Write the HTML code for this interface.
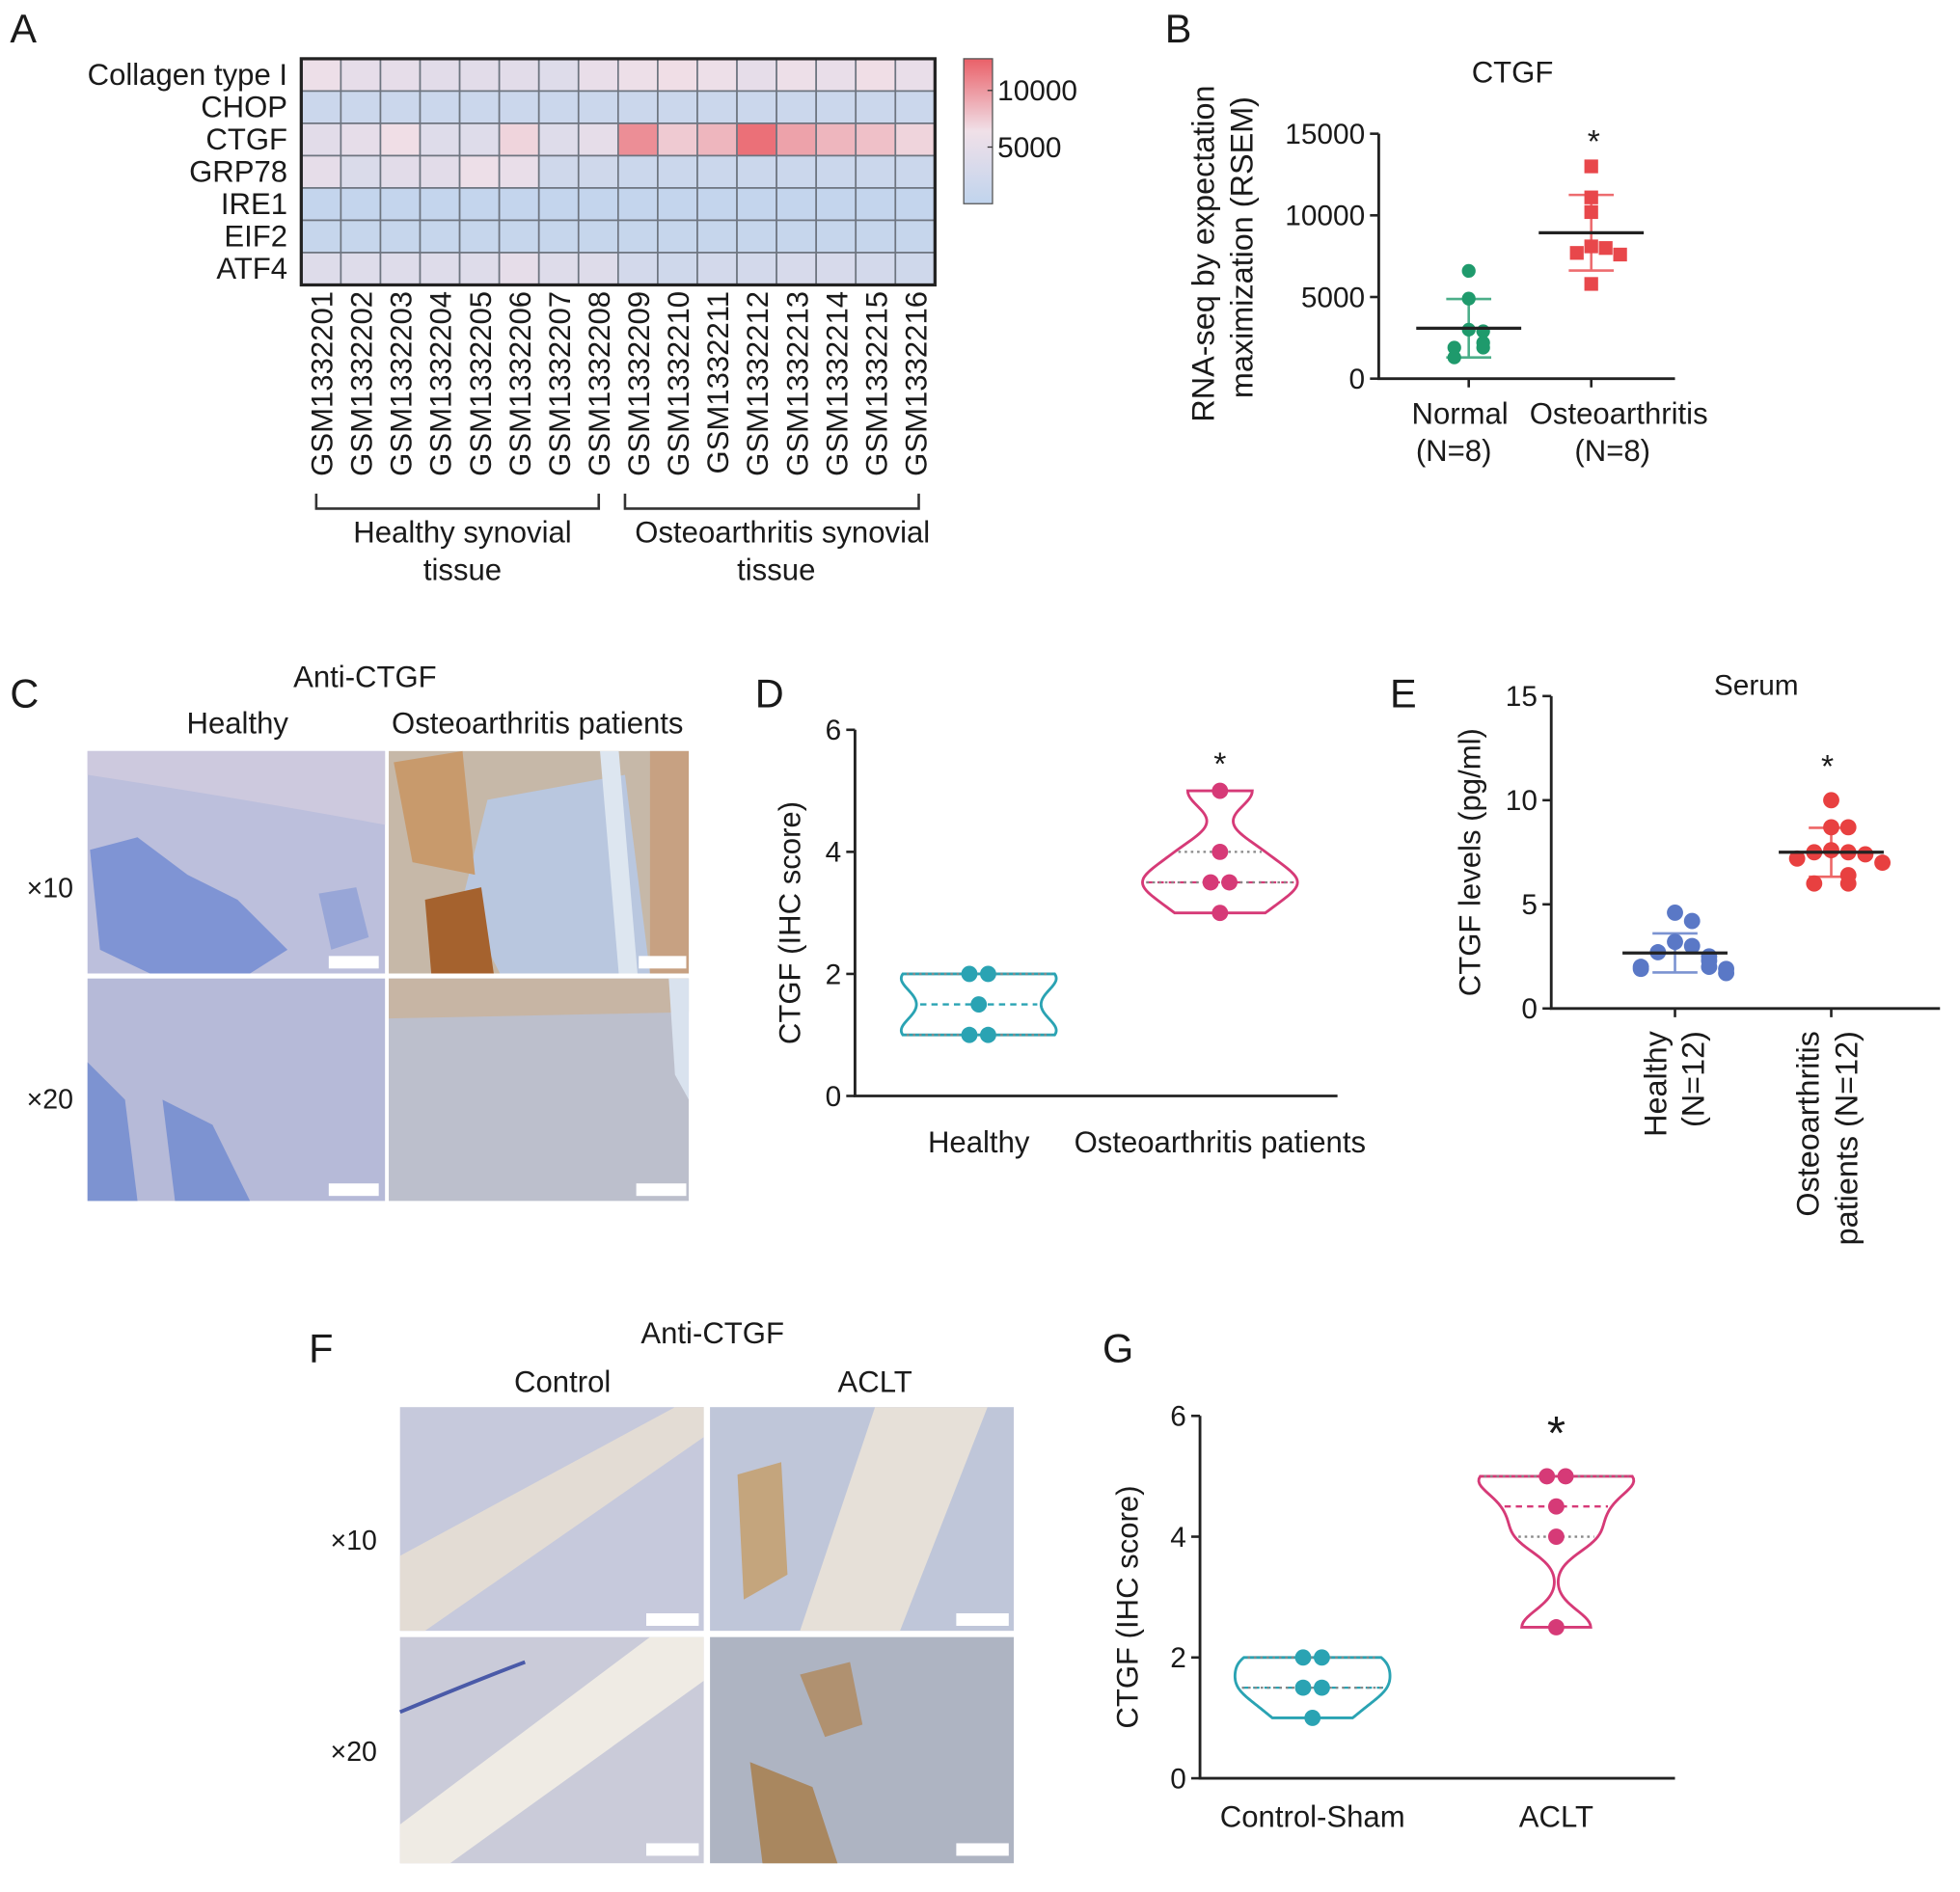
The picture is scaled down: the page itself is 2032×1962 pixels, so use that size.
<!DOCTYPE html>
<html><head><meta charset="utf-8">
<style>
html,body{margin:0;padding:0;background:#fff;}
svg{display:block;font-family:"Liberation Sans",Arial,sans-serif;}
text{fill:#1a1a1a;}
</style></head>
<body>
<svg id="fig" width="2032" height="1962" viewBox="0 0 1568 1514" xmlns="http://www.w3.org/2000/svg">
<rect width="1568" height="1514" fill="#fff"/>
<g font-size="32">
<text x="8" y="34">A</text><text x="932" y="34">B</text><text x="8" y="566">C</text>
<text x="604" y="566">D</text><text x="1112" y="566">E</text><text x="247" y="1090">F</text><text x="882" y="1090">G</text>
</g>
<g id="panelA"></g>
<g id="panelB"></g>
<g>
<text x="292" y="550" font-size="24" text-anchor="middle">Anti-CTGF</text>
<text x="190" y="587" font-size="24" text-anchor="middle">Healthy</text>
<text x="430" y="587" font-size="24" text-anchor="middle">Osteoarthritis patients</text>
<text x="40" y="718" font-size="22" text-anchor="middle">×10</text>
<text x="40" y="887" font-size="22" text-anchor="middle">×20</text>
<g>
<rect x="70" y="601" width="238" height="178" fill="#bcbfdc"/>
<path d="M70 601 L308 601 L308 660 Q200 640 70 620 Z" fill="#cdc9de"/>
<path d="M72 680 L110 670 L150 700 L190 720 L230 760 L200 779 L120 779 L80 760 Z" fill="#6f8ad2" opacity="0.8"/>
<path d="M255 715 L285 710 L295 750 L265 760 Z" fill="#8ea0d6" opacity="0.8"/>
<rect x="263" y="765" width="40" height="10" fill="#fff"/>
</g>
<g>
<rect x="311" y="601" width="240" height="178" fill="#c6b8a8"/>
<path d="M390 640 L500 620 L520 779 L400 779 L370 720 Z" fill="#b9c7df"/>
<path d="M480 601 L495 601 L510 779 L495 779 Z" fill="#dde6f0"/>
<path d="M315 610 L370 601 L380 700 L330 690 Z" fill="#c89a6c"/>
<path d="M340 720 L385 710 L395 779 L345 779 Z" fill="#a5622e"/>
<path d="M520 601 L551 601 L551 779 L520 779 Z" fill="#c7a182"/>
<rect x="511" y="765" width="38" height="10" fill="#fff"/>
</g>
<g>
<rect x="70" y="783" width="238" height="178" fill="#b6bad8"/>
<path d="M70 850 L100 880 L110 961 L70 961 Z" fill="#6f89d0" opacity="0.8"/>
<path d="M130 880 L170 900 L200 961 L140 961 Z" fill="#6f89d0" opacity="0.8"/>
<rect x="263" y="947" width="40" height="10" fill="#fff"/>
</g>
<g>
<rect x="311" y="783" width="240" height="178" fill="#bcbfcc"/>
<path d="M311 783 L551 783 L551 810 L311 815 Z" fill="#c7b5a4"/>
<path d="M535 783 L551 783 L551 880 L540 860 Z" fill="#d9e2ee"/>
<rect x="509" y="947" width="40" height="10" fill="#fff"/>
</g>
</g>
<g>
<text x="570" y="1075" font-size="24" text-anchor="middle">Anti-CTGF</text>
<text x="450" y="1114" font-size="24" text-anchor="middle">Control</text>
<text x="700" y="1114" font-size="24" text-anchor="middle">ACLT</text>
<text x="283" y="1240" font-size="22" text-anchor="middle">×10</text>
<text x="283" y="1409" font-size="22" text-anchor="middle">×20</text>
<g>
<rect x="320" y="1126" width="243" height="179" fill="#c6c9dc"/>
<path d="M320 1245 L540 1126 L563 1126 L563 1150 L340 1305 L320 1305 Z" fill="#e3dcd4"/>
<rect x="517" y="1291" width="42" height="10" fill="#fff"/>
</g>
<g>
<rect x="568" y="1126" width="243" height="179" fill="#bfc6d9"/>
<path d="M700 1126 L790 1126 L720 1305 L640 1305 Z" fill="#e6e0d8"/>
<path d="M590 1180 L625 1170 L630 1260 L595 1280 Z" fill="#c4a57d"/>
<rect x="765" y="1291" width="42" height="10" fill="#fff"/>
</g>
<g>
<rect x="320" y="1310" width="243" height="181" fill="#cacbd9"/>
<path d="M320 1460 L520 1310 L563 1310 L563 1345 L360 1491 L320 1491 Z" fill="#efebe4"/>
<path d="M320 1370 Q380 1345 420 1330" stroke="#4a5aa8" stroke-width="3" fill="none"/>
<rect x="517" y="1475" width="42" height="10" fill="#fff"/>
</g>
<g>
<rect x="568" y="1310" width="243" height="181" fill="#aeb4c2"/>
<path d="M640 1340 L680 1330 L690 1380 L660 1390 Z" fill="#b09170"/>
<path d="M600 1410 L650 1430 L670 1491 L610 1491 Z" fill="#a9875f"/>
<rect x="765" y="1475" width="42" height="10" fill="#fff"/>
</g>
</g>
<g id="panelD"></g>
<g id="panelE"></g>
<g id="panelG"></g>
</svg>
<script>
const heatGenes = ["Collagen type I","CHOP","CTGF","GRP78","IRE1","EIF2","ATF4"];
const heatSamples = ["GSM1332201","GSM1332202","GSM1332203","GSM1332204","GSM1332205","GSM1332206","GSM1332207","GSM1332208","GSM1332209","GSM1332210","GSM1332211","GSM1332212","GSM1332213","GSM1332214","GSM1332215","GSM1332216"];
const heatCollagen = [6000,5000,5000,4500,4500,4500,4000,5500,6000,6500,6000,5000,6000,5500,6500,5500];
const heatCHOP = [1500,1500,1500,1500,1500,1500,1500,1500,1500,1500,1500,1500,1500,1500,1500,1500];
const heatCTGF = [4500,5000,6500,4000,4000,7000,4000,5000,10500,7500,8500,12000,9500,8500,8000,7000];
const heatGRP78 = [5000,3500,4500,4500,6000,5500,2000,2000,1500,1500,1500,1500,1500,1500,1500,1500];
const heatIRE1 = [500,500,500,500,500,500,500,500,500,500,500,500,500,500,500,500];
const heatEIF2 = [800,800,800,800,800,800,800,800,800,800,800,800,800,800,800,800];
const heatATF4 = [4000,4000,4000,4000,4000,5000,4000,4000,2500,2000,2500,2500,3000,3000,2500,2000];
const heatRows = [heatCollagen,heatCHOP,heatCTGF,heatGRP78,heatIRE1,heatEIF2,heatATF4];
const heatTicks = [5000,10000];

const bCats = ["Normal","Osteoarthritis"];
const bNormal = [6600,4900,3000,2900,2200,1900,1900,1300];
const bOA = [13000,11100,10200,8100,8000,7700,7600,5800];
const bTicks = [0,5000,10000,15000];

const dCats = ["Healthy","Osteoarthritis patients"];
const dHealthy = [2,2,1.5,1,1];
const dOA = [5,4,3.5,3.5,3];
const dTicks = [0,2,4,6];

const eCats = ["Healthy","Osteoarthritis patients"];
const eHealthy = [4.6,4.2,3.2,3.0,2.7,2.5,2.3,2.0,2.0,1.9,1.9,1.7];
const eOA = [10,8.7,8.7,7.6,7.5,7.5,7.4,7.2,7.0,6.4,6.0,6.0];
const eTicks = [0,5,10,15];

const gCats = ["Control-Sham","ACLT"];
const gControl = [2,2,1.5,1.5,1];
const gACLT = [5,5,4.5,4,2.5];
const gTicks = [0,2,4,6];

const NS="http://www.w3.org/2000/svg";
function mk(parent,tag,attrs,txt){const e=document.createElementNS(NS,tag);for(const k in attrs)e.setAttribute(k,attrs[k]);if(txt!==undefined)e.textContent=txt;parent.appendChild(e);return e;}
function lin(d0,d1,r0,r1){return v=>r0+(v-d0)/(d1-d0)*(r1-r0);}
function mean(a){return a.reduce((s,v)=>s+v,0)/a.length;}
function sd(a){const m=mean(a);return Math.sqrt(a.reduce((s,v)=>s+(v-m)*(v-m),0)/(a.length-1));}
function quant(a,q){const s=[...a].sort((x,y)=>x-y);const p=(s.length-1)*q;const i=Math.floor(p);return s[i]+(s[Math.min(i+1,s.length-1)]-s[i])*(p-i);}
function mix(c1,c2,t){return "rgb("+c1.map((v,i)=>Math.round(v+(c2[i]-v)*t)).join(",")+")";}
function heatColor(v){const lo=[192,212,237],mid=[240,224,232],hi=[234,96,104];const t=Math.max(0,Math.min(1,v/12800));return t<0.5?mix(lo,mid,t/0.5):mix(mid,hi,(t-0.5)/0.5);}

(function(){
const g=document.getElementById('panelA');
const x0=241,y0=47,cw=(748-241)/heatSamples.length,rh=(228-47)/heatGenes.length;
heatRows.forEach((row,r)=>{
  row.forEach((v,c)=>{
    const cell=mk(g,'rect',{x:x0+c*cw,y:y0+r*rh,width:cw,height:rh,fill:heatColor(v),stroke:'#6e7580','stroke-width':1.3});
    
    
  });
  const t=mk(g,'text',{x:230,y:y0+r*rh+rh/2+8,'font-size':24,'text-anchor':'end'},heatGenes[r]);
  
  
});
mk(g,'rect',{x:x0,y:y0,width:748-241,height:228-47,fill:'none',stroke:'#222','stroke-width':2.5});
heatSamples.forEach((s,c)=>{
  const cx=x0+c*cw+cw/2+9;
  const t=mk(g,'text',{x:0,y:0,'font-size':24,'text-anchor':'end',transform:`translate(${cx},233) rotate(-90)`},s);
  
  
});
const br=mk(g,'path',{d:'M253 395 V407 H479 V395 M500 395 V407 H735 V395',fill:'none',stroke:'#333','stroke-width':2});


[["Healthy synovial",370,434],["tissue",370,464],["Osteoarthritis synovial",626,434],["tissue",621,464]].forEach(a=>{
  const t=mk(g,'text',{x:a[1],y:a[2],'font-size':24,'text-anchor':'middle'},a[0]);
  
  
});
const defs=mk(g,'defs',{});const lg=mk(defs,'linearGradient',{id:'cbg',x1:0,y1:1,x2:0,y2:0});
[0,0.25,0.5,0.75,1].forEach(o=>mk(lg,'stop',{offset:o,'stop-color':heatColor(o*12800)}));
const cb=mk(g,'rect',{x:771,y:47,width:23,height:116,fill:'url(#cbg)',stroke:'#555','stroke-width':1});


const cy=lin(0,12800,163,47);
heatTicks.forEach(v=>{
  mk(g,'line',{x1:790,x2:794,y1:cy(v),y2:cy(v),stroke:'#333'});
  const t=mk(g,'text',{x:798,y:cy(v)+8,'font-size':23},String(v));
  
  
});
})();

function axes(g,ax,yTop,yBot,xEnd,ticks,ymax,fs){
  const y=lin(0,ymax,yBot,yTop);
  const a=mk(g,'path',{d:`M${ax} ${yTop} V${yBot} H${xEnd}`,fill:'none',stroke:'#222','stroke-width':2.2});
  
  
  ticks.forEach(v=>{
    mk(g,'line',{x1:ax-7,x2:ax,y1:y(v),y2:y(v),stroke:'#222','stroke-width':2});
    const t=mk(g,'text',{x:ax-11,y:y(v)+8,'font-size':fs,'text-anchor':'end'},String(v));
    
    
  });
  return y;
}
function scatterGroup(g,vals,cx,y,color,shape,r){
  const m=mean(vals),s=sd(vals);
  const sorted=[...vals].sort((a,b)=>b-a);
  const placed=[];
  sorted.forEach(v=>{
    let off=0;const near=placed.filter(p=>Math.abs(y(p.v)-y(v))<r*1.8);
    if(near.length){const k=near.length;off=(k%2?1:-1)*Math.ceil(k/2)*r*2.1;}
    placed.push({v,off});
  });
  const eb=mk(g,'path',{d:`M${cx} ${y(m+s)} V${y(m-s)} M${cx-18} ${y(m+s)} H${cx+18} M${cx-18} ${y(m-s)} H${cx+18}`,stroke:color,'stroke-width':2,fill:'none',opacity:0.8});
  
  
  placed.forEach(p=>{
    let el;
    if(shape==='sq') el=mk(g,'rect',{x:cx+p.off-r,y:y(p.v)-r,width:2*r,height:2*r,fill:color});
    else el=mk(g,'circle',{cx:cx+p.off,cy:y(p.v),r:r,fill:color});
    
    
  });
  const ml=mk(g,'line',{x1:cx-42,x2:cx+42,y1:y(m),y2:y(m),stroke:'#222','stroke-width':2.5});
  
  
}

(function(){
const g=document.getElementById('panelB');
const y=axes(g,1103,107,303,1340,bTicks,15000,23);
const xs=[1175,1273];
xs.forEach(x=>mk(g,'line',{x1:x,x2:x,y1:303,y2:310,stroke:'#222','stroke-width':2}));
scatterGroup(g,bNormal,xs[0],y,'#1f9a6c','c',5.5);
scatterGroup(g,bOA,xs[1],y,'#e8474b','sq',5.5);
const t=mk(g,'text',{x:1210,y:66,'font-size':24,'text-anchor':'middle'},'CTGF');


mk(g,'text',{x:1275,y:122,'font-size':26,'text-anchor':'middle'},'*');
[["Normal",1168,339],["(N=8)",1163,369],["Osteoarthritis",1295,339],["(N=8)",1290,369]].forEach(a=>{
  const e=mk(g,'text',{x:a[1],y:a[2],'font-size':24,'text-anchor':'middle'},a[0]);
  
  
});
const yt=mk(g,'text',{'font-size':25,'text-anchor':'middle',transform:'translate(971,203) rotate(-90)'},'RNA-seq by expectation');


mk(g,'text',{'font-size':25,'text-anchor':'middle',transform:'translate(1002,198) rotate(-90)'},'maximization (RSEM)');
})();

function violin(g,vals,cx,y,color,maxHW,bw){
  const lo=Math.min(...vals),hi=Math.max(...vals);
  const dens=v=>vals.reduce((s,d)=>s+Math.exp(-0.5*((v-d)/bw)**2),0);
  const N=60,pts=[];let mx=0;
  for(let i=0;i<=N;i++){const v=lo+(hi-lo)*i/N;const d=dens(v);mx=Math.max(mx,d);pts.push([v,d]);}
  const right=pts.map(p=>`${cx+p[1]/mx*maxHW},${y(p[0])}`);
  const left=pts.slice().reverse().map(p=>`${cx-p[1]/mx*maxHW},${y(p[0])}`);
  const vp=mk(g,'polygon',{points:right.concat(left).join(' '),fill:'none',stroke:color,'stroke-width':2.2});
  
  
  const hwAt=v=>dens(v)/mx*maxHW;
  [[0.5,'5,4',color],[0.25,'2,3','#888'],[0.75,'2,3','#888']].forEach(q=>{
    const v=quant(vals,q[0]);const w=hwAt(v);
    const l=mk(g,'line',{x1:cx-w+3,x2:cx+w-3,y1:y(v),y2:y(v),stroke:q[2],'stroke-width':1.8,'stroke-dasharray':q[1]});
    
    
  });
  const counts={};
  vals.forEach(v=>{counts[v]=(counts[v]||0)+1;});
  Object.keys(counts).forEach(k=>{
    const n=counts[k];
    for(let i=0;i<n;i++){
      const c=mk(g,'circle',{cx:cx+(i-(n-1)/2)*15,cy:y(+k),r:6.5,fill:color});
      
      
    }
  });
}
function violinPanel(id,ax,yTop,yBot,xEnd,ticks,xs,sets,cats,labY,ytitle,ytX,star,starSize){
  const g=document.getElementById(id);
  const y=axes(g,ax,yTop,yBot,xEnd,ticks,6,23);
  violin(g,sets[0],xs[0],y,'#2aa3b3',62,0.28);
  violin(g,sets[1],xs[1],y,'#d63a77',62,0.28);
  cats.forEach((c,i)=>{
    const t=mk(g,'text',{x:xs[i],y:labY,'font-size':24,'text-anchor':'middle'},c);
    
    
  });
  const yt=mk(g,'text',{'font-size':24,'text-anchor':'middle',transform:`translate(${ytX},${(yTop+yBot)/2+8}) rotate(-90)`},ytitle);
  
  
  mk(g,'text',{x:xs[1],y:star,'font-size':starSize,'text-anchor':'middle'},'*');
}
violinPanel('panelD',684,584,877,1070,dTicks,[783,976],[dHealthy,dOA],dCats,922,'CTGF (IHC score)',640,620,26);
violinPanel('panelG',960,1133,1423,1340,gTicks,[1050,1245],[gControl,gACLT],gCats,1462,'CTGF (IHC score)',910,1160,38);

(function(){
const g=document.getElementById('panelE');
const y=axes(g,1241,557,807,1552,eTicks,15,23);
const xs=[1340,1465];
xs.forEach(x=>mk(g,'line',{x1:x,x2:x,y1:807,y2:814,stroke:'#222','stroke-width':2}));
scatterGroup(g,eHealthy,xs[0],y,'#5a78c6','c',6.5);
scatterGroup(g,eOA,xs[1],y,'#e84040','c',6.5);
const t=mk(g,'text',{x:1405,y:556,'font-size':23,'text-anchor':'middle'},'Serum');


mk(g,'text',{x:1462,y:622,'font-size':26,'text-anchor':'middle'},'*');
const yt=mk(g,'text',{'font-size':24,'text-anchor':'middle',transform:'translate(1184,690) rotate(-90)'},'CTGF levels (pg/ml)');


[["Healthy",1333,825],["(N=12)",1363,825],["Osteoarthritis",1455,825],["patients (N=12)",1486,825]].forEach(a=>{
  const e=mk(g,'text',{'font-size':25,'text-anchor':'end',transform:`translate(${a[1]},${a[2]}) rotate(-90)`},a[0]);
  
  
});
})();
</script>
</body></html>
